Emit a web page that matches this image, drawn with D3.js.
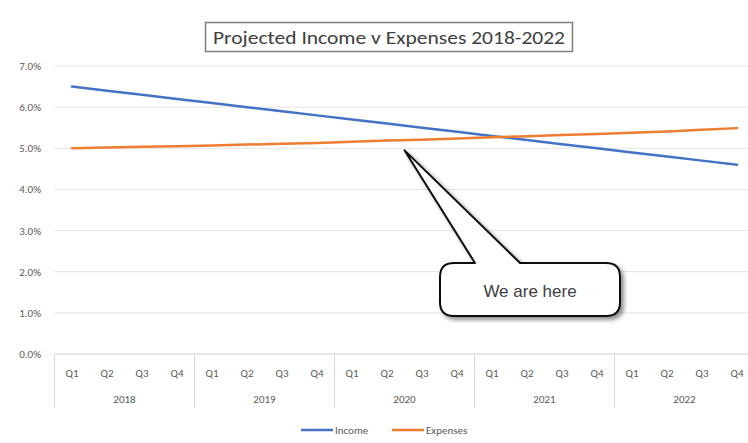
<!DOCTYPE html>
<html><head><meta charset="utf-8">
<script src="https://cdn.jsdelivr.net/npm/d3@7"></script>
<style>body{margin:0;background:#fff}svg{display:block}</style>
</head><body><svg id="c" width="748" height="443"></svg>
<script>
const years = ["2018","2019","2020","2021","2022"];
const quarters = ["Q1","Q2","Q3","Q4"];
const income = [6.5,6.4,6.3,6.2,6.1,6.0,5.9,5.8,5.7,5.6,5.5,5.4,5.3,5.2,5.1,5.0,4.9,4.8,4.7,4.6];
const expenses = [5.0,5.02,5.04,5.05,5.07,5.09,5.11,5.13,5.16,5.19,5.21,5.24,5.27,5.29,5.32,5.35,5.38,5.41,5.45,5.49];
const yTicks = [0,1,2,3,4,5,6,7];
const title = "Projected Income v Expenses 2018-2022";
const callout = "We are here";

const svg = d3.select("#c");
const cats = [];
years.forEach(y => quarters.forEach(q => cats.push(y + "-" + q)));
const x = d3.scaleBand().domain(cats).range([54.5, 754.5]);
const y = d3.scaleLinear().domain([0, 7]).range([354, 66]);
const font = "Carlito, Calibri, 'Liberation Sans Narrow', 'Open Sans', sans-serif";

// gridlines
svg.append("g").selectAll("line").data(yTicks).join("line")
  .attr("x1", 54.5).attr("x2", 748).attr("y1", d => y(d)).attr("y2", d => y(d))
  .attr("stroke", d => d === 0 ? "#d0d0d0" : "#e3e3e3").attr("stroke-width", 1);

// y labels
svg.append("g").selectAll("text").data(yTicks).join("text")
  .attr("x", 41).attr("y", d => y(d) + 4).attr("text-anchor", "end")
  .attr("font-family", font).attr("font-size", 11).attr("fill", "#595959")
  .text(d => d3.format(".1f")(d) + "%");

// x quarter labels
svg.append("g").selectAll("text").data(cats).join("text")
  .attr("x", d => x(d) + x.bandwidth() / 2).attr("y", 377).attr("text-anchor", "middle")
  .attr("font-family", font).attr("font-size", 11).attr("fill", "#595959")
  .text(d => d.split("-")[1]);

// year separators
const sepIdx = [0,4,8,12,16];
svg.append("g").selectAll("line").data(sepIdx).join("line")
  .attr("x1", d => x(cats[d])).attr("x2", d => x(cats[d]))
  .attr("y1", 354).attr("y2", 408).attr("stroke", "#d9d9d9");
// year labels
svg.append("g").selectAll("text").data(years).join("text")
  .attr("x", (d, i) => x(cats[i * 4]) + 2 * x.bandwidth()).attr("y", 403).attr("text-anchor", "middle")
  .attr("font-family", font).attr("font-size", 11).attr("fill", "#595959").text(d => d);

// lines
const line = d3.line().x((d, i) => x(cats[i]) + x.bandwidth() / 2).y(d => y(d));
svg.append("path").datum(income).attr("d", line).attr("fill", "none")
  .attr("stroke", "#4472C4").attr("stroke-width", 2.5).attr("stroke-linecap", "round");
svg.append("path").datum(expenses).attr("d", line).attr("fill", "none")
  .attr("stroke", "#ED7D31").attr("stroke-width", 2.5).attr("stroke-linecap", "round");

// title box
const tg = svg.append("g");
const tt = tg.append("text").attr("x", 389).attr("y", 44).attr("text-anchor", "middle")
  .attr("font-family", font).attr("font-size", 19).attr("fill", "#404040").text(title);
const bb = tt.node().getBBox();
tg.insert("rect", "text").attr("x", 205.5).attr("y", 22.5).attr("width", 367).attr("height", 29)
  .attr("fill", "#fff").attr("stroke", "#7f7f7f").attr("stroke-width", 1.5);
tt.attr("textLength", 352).attr("lengthAdjust", "spacingAndGlyphs");

// callout
const tipX = x("2020-Q2") + x.bandwidth(), tipY = y(4.95);
const bx = 440, by = 263, bw = 180, bh = 53, r = 14;
const pathD = `M${bx + r},${by} L${475},${by} L${tipX},${tipY} L${520},${by} L${bx + bw - r},${by}
 Q${bx + bw},${by} ${bx + bw},${by + r} L${bx + bw},${by + bh - r} Q${bx + bw},${by + bh} ${bx + bw - r},${by + bh}
 L${bx + r},${by + bh} Q${bx},${by + bh} ${bx},${by + bh - r} L${bx},${by + r} Q${bx},${by} ${bx + r},${by} Z`;
const defs = svg.append("defs");
const f = defs.append("filter").attr("id", "sh").attr("x", "-20%").attr("y", "-20%").attr("width", "140%").attr("height", "140%");
f.append("feGaussianBlur").attr("in", "SourceAlpha").attr("stdDeviation", 2);
f.append("feOffset").attr("dx", 3).attr("dy", 3).attr("result", "o");
f.append("feComponentTransfer").append("feFuncA").attr("type", "linear").attr("slope", 0.45);
const m = f.append("feMerge"); m.append("feMergeNode"); m.append("feMergeNode").attr("in", "SourceGraphic");
svg.append("path").attr("d", pathD).attr("fill", "#fff").attr("stroke", "#111")
  .attr("stroke-width", 2).attr("stroke-linejoin", "round").attr("filter", "url(#sh)");
svg.append("text").attr("x", 530).attr("y", 297).attr("text-anchor", "middle")
  .attr("font-family", "'Liberation Sans', Arial, sans-serif").attr("font-size", 17).attr("fill", "#404040").text(callout);

// legend
const leg = [{n: "Income", c: "#4472C4", x: 301}, {n: "Expenses", c: "#ED7D31", x: 392}];
const lg = svg.append("g").selectAll("g").data(leg).join("g");
lg.append("line").attr("x1", d => d.x).attr("x2", d => d.x + 32).attr("y1", 430).attr("y2", 430)
  .attr("stroke", d => d.c).attr("stroke-width", 2.5);
lg.append("text").attr("x", d => d.x + 34).attr("y", 434).attr("font-family", font).attr("font-size", 11)
  .attr("fill", "#595959").text(d => d.n);
</script></body></html>
